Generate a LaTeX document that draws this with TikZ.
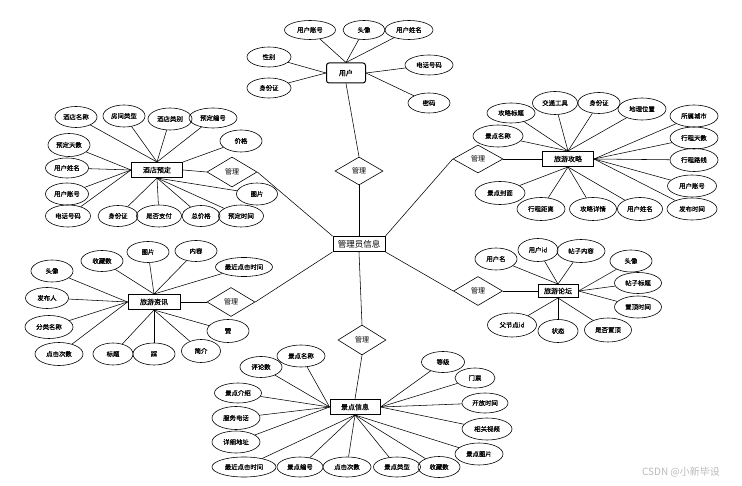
\documentclass[tikz,border=0pt]{standalone}
\usepackage{fontspec}
\setmainfont{Noto Sans CJK SC}
\newfontfamily\boldish[FakeBold=0.6]{Noto Sans CJK SC}
\usetikzlibrary{shapes.geometric}
\tikzset{
  attr/.style={draw, ellipse, minimum width=44pt, minimum height=21pt, inner sep=0pt,
    font=\boldish\fontsize{6.4}{7}\selectfont, line width=0.6pt},
  ent/.style={draw, rectangle, minimum width=51pt, minimum height=15pt, inner sep=0pt,
    font=\boldish\fontsize{7}{8}\selectfont, line width=1pt},
  rel/.style={draw, diamond, minimum width=49pt, minimum height=29pt, inner sep=0pt,
    font=\fontsize{7}{8}\selectfont, line width=0.6pt},
  ln/.style={line width=0.55pt},
}
\begin{document}
\begin{tikzpicture}[x=1pt, y=-1pt]
\fill[white] (0,0) rectangle (742,486);
\useasboundingbox (0,0) rectangle (742,486);

% ---------- entities ----------
\node[ent, rounded corners=2.5pt, minimum width=39pt, minimum height=20pt] (u) at (346,73) {用户};
\node[ent] (h) at (157,170) {酒店预定};
\node[ent] (g) at (568,159) {旅游攻略};
\node[ent, minimum width=52pt, font=\fontsize{8.5}{9}\selectfont] (a) at (359,244) {管理员信息};
\node[ent, minimum width=52pt] (z) at (154,302) {旅游资讯};
\node[ent, minimum width=40pt, minimum height=13pt] (f) at (558,291) {旅游论坛};
\node[ent, minimum width=50pt] (j) at (355,407) {景点信息};

% ---------- relations ----------
\node[rel, minimum width=48pt, minimum height=28pt] (d1) at (359,171) {管理};
\node[rel, minimum width=50pt, minimum height=30pt] (d2) at (232,172) {管理};
\node[rel, minimum width=50pt, minimum height=28pt] (d3) at (478,159) {管理};
\node[rel, minimum width=48pt, minimum height=29pt] (d4) at (231,302) {管理};
\node[rel, minimum width=49pt, minimum height=29pt] (d5) at (478,291) {管理};
\node[rel, minimum width=48pt, minimum height=30pt] (d6) at (362,340) {管理};

\draw[ln] (u.south) -- (d1.north);
\draw[ln] (d1.south) -- (a.north);
\draw[ln] (h.east) -- (d2.west);
\draw[ln] (d2.east) -- (a.north west);
\draw[ln] (a.north east) -- (d3.west);
\draw[ln] (d3.east) -- (g.west);
\draw[ln] (a.south west) -- (d4.east);
\draw[ln] (d4.west) -- (z.east);
\draw[ln] (a.south east) -- (d5.west);
\draw[ln] (d5.east) -- (f.west);
\draw[ln] (a.south) -- (d6.north);
\draw[ln] (d6.south) -- (j.north);

% ---------- 用户 ----------
\node[attr, minimum width=51pt, minimum height=19pt] (u1) at (310,30) {用户账号};
\node[attr, minimum width=42pt, minimum height=19pt] (u2) at (364,30) {头像};
\node[attr, minimum width=48pt, minimum height=19pt] (u3) at (409,30) {用户姓名};
\node[attr, minimum height=20pt] (u4) at (269,57) {性别};
\node[attr, minimum height=20pt] (u5) at (269,88) {身份证};
\node[attr, minimum width=48pt, minimum height=20pt] (u6) at (429,65) {电话号码};
\node[attr, minimum width=42pt, minimum height=20pt] (u7) at (429,103) {密码};
\foreach \n in {u1,u2,u3} \draw[ln] (\n) -- (u.north);
\foreach \n in {u4,u5} \draw[ln] (\n) -- (u.west);
\foreach \n in {u6,u7} \draw[ln] (\n) -- (u.east);

% ---------- 酒店预定 ----------
\node[attr, minimum width=42pt] (h1) at (76,117) {酒店名称};
\node[attr, minimum width=42pt, minimum height=22pt] (h2) at (124,116) {房间类型};
\node[attr, minimum width=44pt, minimum height=22pt] (h3) at (170,119) {酒店类别};
\node[attr, minimum width=48pt, minimum height=20pt] (h4) at (213,118) {预定编号};
\node[attr, minimum width=42pt, minimum height=22pt] (h5) at (241,141) {价格};
\node[attr, minimum width=42pt, minimum height=23pt] (h6) at (69,145) {预定天数};
\node[attr, minimum width=43pt, minimum height=20pt] (h7) at (67,168) {用户姓名};
\node[attr, minimum width=43pt, minimum height=22pt] (h8) at (67,194) {用户账号};
\node[attr, minimum width=45pt, minimum height=22pt] (h9) at (68,216) {电话号码};
\node[attr, minimum width=40pt, minimum height=21pt] (h10) at (118,216) {身份证};
\node[attr, minimum width=45pt, minimum height=22pt] (h11) at (159,216) {是否支付};
\node[attr, minimum width=38pt, minimum height=21pt] (h12) at (201,216) {总价格};
\node[attr, minimum width=45pt, minimum height=22pt] (h13) at (241,216) {预定时间};
\node[attr, minimum width=41pt, minimum height=22pt] (h14) at (257,194) {图片};
\foreach \n in {h1,h2,h3,h4} \draw[ln] (\n) -- (h.north);
\draw[ln] (h5) -- (h.north east);
\foreach \n in {h6,h7,h8,h9} \draw[ln] (\n) -- (h.west);
\foreach \n in {h10,h11,h12,h13,h14} \draw[ln] (\n) -- (h.south);

% ---------- 旅游攻略 ----------
\node[attr, minimum width=48pt, minimum height=20pt] (g1) at (511,113) {攻略标题};
\node[attr, minimum width=45pt, minimum height=23pt] (g2) at (555,103) {交通工具};
\node[attr, minimum width=42pt, minimum height=21pt] (g3) at (599,103) {身份证};
\node[attr, minimum width=48pt, minimum height=22pt] (g4) at (642,109) {地理位置};
\node[attr, minimum width=48pt, minimum height=22pt] (g5) at (694,116) {所属城市};
\node[attr, minimum width=48pt, minimum height=22pt] (g6) at (694,138) {行程天数};
\node[attr, minimum width=48pt, minimum height=23pt] (g7) at (694,160) {行程路线};
\node[attr, minimum width=49pt, minimum height=22pt] (g8) at (692,186) {用户账号};
\node[attr, minimum width=50pt, minimum height=22pt] (g9) at (692,209) {发布时间};
\node[attr, minimum width=45pt, minimum height=23pt] (g10) at (640,209) {用户姓名};
\node[attr, minimum width=47pt, minimum height=23pt] (g11) at (593,209) {攻略详情};
\node[attr, minimum width=48pt, minimum height=23pt] (g12) at (541,209) {行程距离};
\node[attr, minimum width=50pt, minimum height=23pt] (g13) at (500,193) {景点封面};
\node[attr, minimum width=50pt, minimum height=22pt] (g14) at (498,136) {景点名称};
\foreach \n in {g1,g2,g3,g4,g14} \draw[ln] (\n) -- (g.north);
\foreach \n in {g5,g6,g7,g8,g9} \draw[ln] (\n) -- (g.east);
\foreach \n in {g10,g11,g12,g13} \draw[ln] (\n) -- (g.south);

% ---------- 旅游资讯 ----------
\node[attr, minimum width=42pt, minimum height=21pt] (z1) at (102,261) {收藏数};
\node[attr, minimum width=42pt, minimum height=21pt] (z2) at (148,252) {图片};
\node[attr, minimum width=42pt, minimum height=21pt] (z3) at (196,251) {内容};
\node[attr, minimum width=57pt, minimum height=19pt] (z4) at (244,267) {最近点击时间};
\node[attr, minimum width=42pt, minimum height=22pt] (z5) at (52,271) {头像};
\node[attr, minimum width=43pt, minimum height=21pt] (z6) at (47,298) {发布人};
\node[attr, minimum width=48pt, minimum height=23pt] (z7) at (49,327) {分类名称};
\node[attr, minimum width=48pt, minimum height=23pt] (z8) at (59,354) {点击次数};
\node[attr, minimum width=40pt, minimum height=22pt] (z9) at (113,354) {标题};
\node[attr, minimum width=42pt, minimum height=22pt] (z10) at (154,354) {踩};
\node[attr, minimum width=39pt, minimum height=23pt] (z11) at (201,351) {简介};
\node[attr, minimum width=42pt, minimum height=23pt] (z12) at (228,331) {赞};
\foreach \n in {z1,z2,z3,z4} \draw[ln] (\n) -- (z.north);
\foreach \n in {z5,z6,z7,z8} \draw[ln] (\n) -- (z.west);
\foreach \n in {z9,z10,z11,z12} \draw[ln] (\n) -- (z.south);

% ---------- 旅游论坛 ----------
\node[attr, minimum width=42pt, minimum height=22pt] (f1) at (496,259) {用户名};
\node[attr, minimum width=40pt, minimum height=23pt] (f2) at (538,250) {用户id};
\node[attr, minimum width=48pt, minimum height=23pt] (f3) at (581,251) {帖子内容};
\node[attr, minimum width=42pt, minimum height=22pt] (f4) at (631,261) {头像};
\node[attr, minimum width=47pt, minimum height=21pt] (f5) at (638,283) {帖子标题};
\node[attr, minimum width=47pt, minimum height=22pt] (f6) at (638,307) {置顶时间};
\node[attr, minimum width=49pt, minimum height=24pt] (f7) at (512,325) {父节点id};
\node[attr, minimum width=40pt, minimum height=23pt] (f8) at (558,331) {状态};
\node[attr, minimum width=47pt, minimum height=24pt] (f9) at (608,330) {是否置顶};
\foreach \n in {f1,f2,f3} \draw[ln] (\n) -- (f.north);
\foreach \n in {f4,f5,f6} \draw[ln] (\n) -- (f.east);
\foreach \n in {f7,f8,f9} \draw[ln] (\n) -- (f.south);

% ---------- 景点信息 ----------
\node[attr, minimum width=48pt, minimum height=22pt] (j1) at (301,356) {景点名称};
\node[attr, minimum width=42pt, minimum height=21pt] (j2) at (261,367) {评论数};
\node[attr, minimum width=47pt, minimum height=20pt] (j3) at (238,393) {景点介绍};
\node[attr, minimum width=48pt, minimum height=23pt] (j4) at (236,418) {服务电话};
\node[attr, minimum width=48pt, minimum height=22pt] (j5) at (236,442) {详细地址};
\node[attr, minimum width=64pt, minimum height=20pt] (j6) at (244,467) {最近点击时间};
\node[attr, minimum width=46pt, minimum height=20pt] (j7) at (300,467) {景点编号};
\node[attr, minimum width=48pt, minimum height=20pt] (j8) at (347,467) {点击次数};
\node[attr, minimum width=47pt, minimum height=20pt] (j9) at (397,467) {景点类型};
\node[attr, minimum width=42pt, minimum height=21pt] (j10) at (439,467) {收藏数};
\node[attr, minimum width=48pt, minimum height=22pt] (j11) at (479,454) {景点图片};
\node[attr, minimum width=50pt, minimum height=22pt] (j12) at (487,429) {相关视频};
\node[attr, minimum width=46pt, minimum height=20pt] (j13) at (485,403) {开放时间};
\node[attr, minimum width=40pt, minimum height=20pt] (j14) at (475,378) {门票};
\node[attr, minimum width=43pt, minimum height=21pt] (j15) at (443,362) {等级};
\foreach \n in {j1,j2,j3,j4,j5} \draw[ln] (\n) -- (j.west);
\foreach \n in {j6,j7,j8,j9,j10,j11} \draw[ln] (\n) -- (j.south);
\foreach \n in {j12,j13,j14,j15} \draw[ln] (\n) -- (j.east);

% ---------- watermark ----------
\node[text=black!27, font=\fontsize{10}{12}\selectfont, inner sep=0pt] (wm) at (681,472) {CSDN @小新毕设};
\end{tikzpicture}
\end{document}
